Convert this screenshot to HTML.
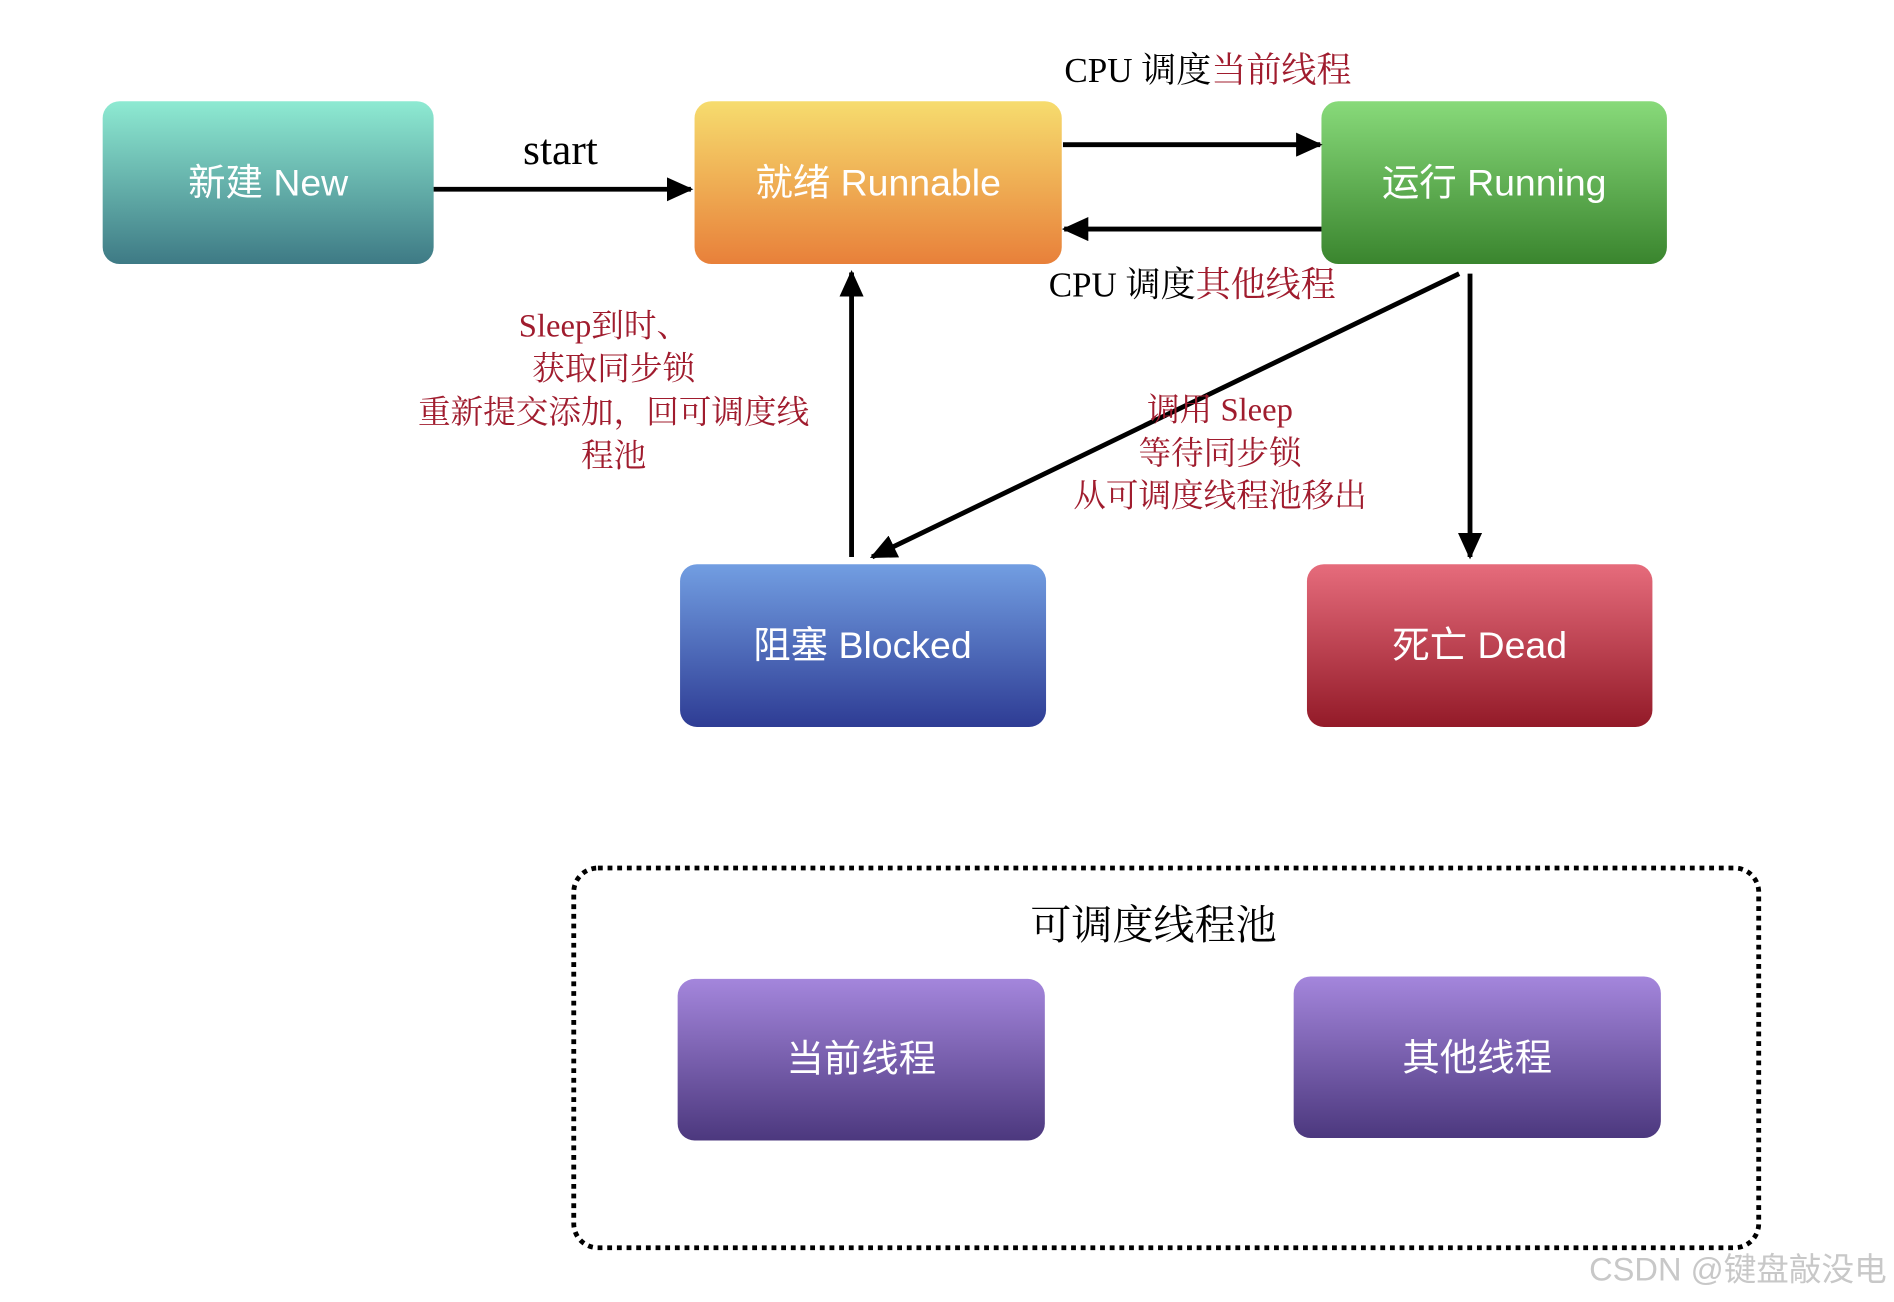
<!DOCTYPE html>
<html><head><meta charset="utf-8"><style>
html,body{margin:0;padding:0;background:#fff;}
svg{display:block;}
.n{font-family:"Liberation Sans","Noto Sans CJK SC",sans-serif;font-size:31px;fill:#fff;text-anchor:middle;}
.s{font-family:"Liberation Serif","Noto Serif CJK SC",serif;text-anchor:middle;}
.r{fill:#a01c2e;}
</style></head><body>
<svg width="1894" height="1302" viewBox="0 0 1568 1080" preserveAspectRatio="none" xmlns="http://www.w3.org/2000/svg">
<defs>
<linearGradient id="g1" x1="0" y1="0" x2="0" y2="1"><stop offset="0" stop-color="#8eead2"/><stop offset="1" stop-color="#3e7a85"/></linearGradient>
<linearGradient id="g2" x1="0" y1="0" x2="0" y2="1"><stop offset="0" stop-color="#f6dc6e"/><stop offset="1" stop-color="#e8803a"/></linearGradient>
<linearGradient id="g3" x1="0" y1="0" x2="0" y2="1"><stop offset="0" stop-color="#88da7a"/><stop offset="1" stop-color="#3a852e"/></linearGradient>
<linearGradient id="g4" x1="0" y1="0" x2="0" y2="1"><stop offset="0" stop-color="#729ee2"/><stop offset="1" stop-color="#2e3c94"/></linearGradient>
<linearGradient id="g5" x1="0" y1="0" x2="0" y2="1"><stop offset="0" stop-color="#e66c7c"/><stop offset="1" stop-color="#931a28"/></linearGradient>
<linearGradient id="g6" x1="0" y1="0" x2="0" y2="1"><stop offset="0" stop-color="#a486dc"/><stop offset="1" stop-color="#4c387e"/></linearGradient>
<marker id="a" markerWidth="22" markerHeight="20" refX="20" refY="10" orient="auto" markerUnits="userSpaceOnUse" viewBox="0 0 22 20"><path d="M0,0 L22,10 L0,20 z" fill="#000"/></marker>
</defs>
<rect x="85" y="84" width="274" height="135" rx="14" fill="url(#g1)"/>
<rect x="575" y="84" width="304" height="135" rx="14" fill="url(#g2)"/>
<rect x="1094" y="84" width="286" height="135" rx="14" fill="url(#g3)"/>
<rect x="563" y="468" width="303" height="135" rx="14" fill="url(#g4)"/>
<rect x="1082" y="468" width="286" height="135" rx="14" fill="url(#g5)"/>
<rect x="475" y="720" width="981" height="315" rx="20" fill="none" stroke="#000" stroke-width="4" stroke-dasharray="4 4"/>
<rect x="561" y="812" width="304" height="134" rx="14" fill="url(#g6)"/>
<rect x="1071" y="810" width="304" height="134" rx="14" fill="url(#g6)"/>
<g class="n">
<text x="222" y="162">新建 New</text>
<text x="727" y="162">就绪 Runnable</text>
<text x="1237" y="162">运行 Running</text>
<text x="714" y="546">阻塞 Blocked</text>
<text x="1225" y="546">死亡 Dead</text>
<text x="713" y="889">当前线程</text>
<text x="1223" y="888">其他线程</text>
</g>
<g stroke="#000" stroke-width="4" fill="none">
<line x1="359" y1="157" x2="572" y2="157" style="marker-end:url(#a)"/>
<line x1="880" y1="120" x2="1093" y2="120" style="marker-end:url(#a)"/>
<line x1="1094" y1="190" x2="881" y2="190" style="marker-end:url(#a)"/>
<line x1="705" y1="462" x2="705" y2="226" style="marker-end:url(#a)"/>
<line x1="1208" y1="227" x2="722" y2="462" style="marker-end:url(#a)"/>
<line x1="1217" y1="227" x2="1217" y2="462" style="marker-end:url(#a)"/>
</g>
<text class="s" x="464" y="136" font-size="36">start</text>
<text class="s" x="1000" y="68" font-size="29">CPU 调度<tspan class="r">当前线程</tspan></text>
<text class="s" x="987" y="246" font-size="29">CPU 调度<tspan class="r">其他线程</tspan></text>
<g class="s r" font-size="27">
<text x="500" y="279">Sleep到时、</text>
<text x="508" y="315">获取同步锁</text>
<text x="508" y="351">重新提交添加，回可调度线</text>
<text x="508" y="387">程池</text>
<text x="1010" y="349">调用 Sleep</text>
<text x="1010" y="385">等待同步锁</text>
<text x="1010" y="420">从可调度线程池移出</text>
</g>
<text class="s" x="955" y="779" font-size="34">可调度线程池</text>
<text x="1562" y="1062" font-family="Liberation Sans,Noto Sans CJK SC,sans-serif" font-size="27" fill="#c8c8c8" text-anchor="end">CSDN @键盘敲没电</text>
</svg>
</body></html>
